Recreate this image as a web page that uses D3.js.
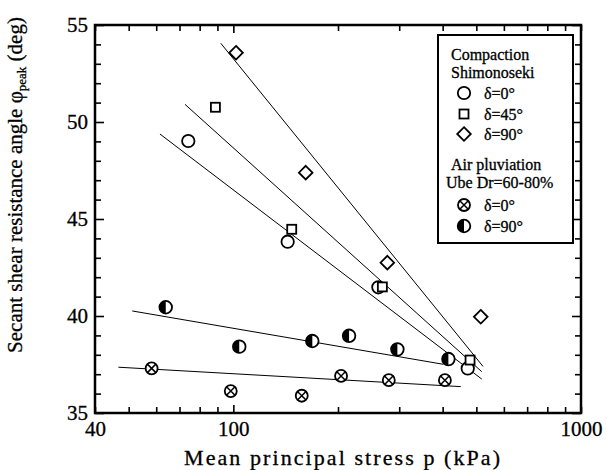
<!DOCTYPE html>
<html>
<head>
<meta charset="utf-8">
<script src="https://cdn.jsdelivr.net/npm/d3@7/dist/d3.min.js"></script>
<style>
  html, body { margin: 0; padding: 0; background: #fff; }
  svg { display: block; font-family: "Liberation Serif", "Times New Roman", serif; }
  svg text { fill: #000; stroke: #000; stroke-width: 0.3px; }
</style>
</head>
<body>
<svg id="chart" width="607" height="470"></svg>
<script>
// Mean principal stress p (kPa) and peak secant angle (deg) for each test group
const compDelta0P   = [74.2, 143.3, 261.3, 472.3];
const compDelta0Phi = [49.02, 43.83, 41.48, 37.3];

const compDelta45P   = [88.8, 147.2, 268.3, 479.6];
const compDelta45Phi = [50.76, 44.47, 41.5, 37.73];

const compDelta90P   = [101.8, 161.5, 277.3, 514.8];
const compDelta90Phi = [53.57, 47.39, 42.75, 39.96];

const airDelta0P   = [58.2, 98.3, 157.3, 204.1, 280, 406];
const airDelta0Phi = [37.3, 36.13, 35.89, 36.91, 36.69, 36.69];

const airDelta90P   = [63.9, 104.0, 168.7, 215.2, 296.4, 415.5];
const airDelta90Phi = [40.45, 38.42, 38.71, 38.98, 38.28, 37.78];

// Fitted trend lines: [p start, p end] and [phi start, phi end]
const fitCompDelta0   = { p: [61.5, 518.2], phi: [49.38, 36.75] };
const fitCompDelta45  = { p: [72.6, 518.2], phi: [50.91, 37.13] };
const fitCompDelta90  = { p: [92.0, 522.7], phi: [54.06, 37.4] };
const fitAirDelta0    = { p: [46.7, 451.0], phi: [37.36, 36.36] };
const fitAirDelta90   = { p: [51.2, 401.9], phi: [40.26, 37.51] };

// Axis ticks
const xTicks = [40, 50, 60, 70, 80, 90, 100, 200, 300, 400, 500, 600, 700, 800, 900, 1000];
const xTickLabels = [40, 100, 1000];
const yTicks = d3.range(35, 56, 1);
const yTickLabels = [35, 40, 45, 50, 55];

const svg = d3.select("#chart");
const plotLeft = 95, plotRight = 581, plotTop = 25, plotBottom = 413;

const x = d3.scaleLog().domain([40, 1000]).range([plotLeft, plotRight]);
const y = d3.scaleLinear().domain([35, 55]).range([plotBottom, plotTop]);

const tickFont = 21;

// Bottom axis with labels, ticks pointing inward
const xAxisB = svg.append("g").attr("transform", `translate(0,${plotBottom})`)
  .call(d3.axisBottom(x).tickValues(xTicks).tickSizeOuter(0).tickSizeInner(-6).tickPadding(8)
    .tickFormat(d => xTickLabels.includes(d) ? String(d) : ""));
xAxisB.selectAll(".tick line").attr("y2", d => d === 100 ? -8 : -6);

const xAxisT = svg.append("g").attr("transform", `translate(0,${plotTop})`)
  .call(d3.axisTop(x).tickValues(xTicks).tickSizeOuter(0).tickSizeInner(-6).tickFormat(""));
xAxisT.selectAll(".tick line").attr("y2", d => d === 100 ? 8 : 6);

const yAxisL = svg.append("g").attr("transform", `translate(${plotLeft},0)`)
  .call(d3.axisLeft(y).tickValues(yTicks).tickSizeOuter(0).tickSizeInner(-6).tickPadding(7)
    .tickFormat(d => yTickLabels.includes(d) ? String(d) : ""));
yAxisL.selectAll(".tick line").attr("x2", d => d % 5 === 0 ? 9 : 6);

const yAxisR = svg.append("g").attr("transform", `translate(${plotRight},0)`)
  .call(d3.axisRight(y).tickValues(yTicks).tickSizeOuter(0).tickSizeInner(-6).tickFormat(""));
yAxisR.selectAll(".tick line").attr("x2", d => d % 5 === 0 ? -9 : -6);

svg.selectAll(".domain").remove();
svg.selectAll(".tick line").attr("stroke", "#000").attr("stroke-width", 1.6);
svg.selectAll(".tick text")
  .attr("fill", "#000")
  .style("font-family", "'Liberation Serif', serif")
  .style("font-size", tickFont + "px");

// Plot frame
svg.append("rect")
  .attr("x", plotLeft).attr("y", plotTop)
  .attr("width", plotRight - plotLeft).attr("height", plotBottom - plotTop)
  .attr("fill", "none").attr("stroke", "#000").attr("stroke-width", 2.5);

// Axis titles
svg.append("text")
  .attr("x", 184).attr("y", 465)
  .attr("textLength", 316).attr("lengthAdjust", "spacing")
  .style("font-size", "22px")
  .text("Mean principal stress p (kPa)");

const yTitle = svg.append("text")
  .attr("transform", "translate(22,185) rotate(-90)")
  .attr("text-anchor", "middle")
  .style("font-size", "21px");
yTitle.append("tspan").text("Secant shear resistance angle φ");
yTitle.append("tspan").attr("dy", 4).style("font-size", "13px").text("peak");
yTitle.append("tspan").attr("dy", -4).text(" (deg)");

// Trend lines
const fits = [fitCompDelta0, fitCompDelta45, fitCompDelta90, fitAirDelta0, fitAirDelta90];
svg.append("g").selectAll("line").data(fits).join("line")
  .attr("x1", d => x(d.p[0])).attr("y1", d => y(d.phi[0]))
  .attr("x2", d => x(d.p[1])).attr("y2", d => y(d.phi[1]))
  .attr("stroke", "#000").attr("stroke-width", 1);

// Marker drawing helpers
const sw = 1.8;
function drawCircle(g) {
  g.append("circle").attr("r", 6.2).attr("fill", "#fff").attr("stroke", "#000").attr("stroke-width", sw);
}
function drawSquare(g) {
  g.append("rect").attr("x", -4.5).attr("y", -4.5).attr("width", 9).attr("height", 9)
    .attr("fill", "#fff").attr("stroke", "#000").attr("stroke-width", sw);
}
function drawDiamond(g) {
  g.append("path").attr("d", "M0,-6.8L6.8,0L0,6.8L-6.8,0Z")
    .attr("fill", "#fff").attr("stroke", "#000").attr("stroke-width", sw);
}
function drawCrossCircle(g) {
  g.append("circle").attr("r", 6).attr("fill", "#fff").attr("stroke", "#000").attr("stroke-width", sw);
  const k = 6 * Math.SQRT1_2;
  g.append("path").attr("d", `M${-k},${-k}L${k},${k}M${-k},${k}L${k},${-k}`)
    .attr("stroke", "#000").attr("stroke-width", 1.5);
}
function drawHalfCircle(g) {
  g.append("circle").attr("r", 6.3).attr("fill", "#fff").attr("stroke", "#000").attr("stroke-width", sw);
  g.append("path").attr("d", "M0,-6.3A6.3,6.3 0 0 0 0,6.3Z").attr("fill", "#000");
}

const groups = [
  { p: airDelta0P, phi: airDelta0Phi, draw: drawCrossCircle },
  { p: airDelta90P, phi: airDelta90Phi, draw: drawHalfCircle },
  { p: compDelta0P, phi: compDelta0Phi, draw: drawCircle },
  { p: compDelta45P, phi: compDelta45Phi, draw: drawSquare },
  { p: compDelta90P, phi: compDelta90Phi, draw: drawDiamond }
];

groups.forEach(gr => {
  gr.p.forEach((p, i) => {
    const g = svg.append("g").attr("transform", `translate(${x(p)},${y(gr.phi[i])})`);
    gr.draw(g);
  });
});

// Legend
const lg = svg.append("g");
lg.append("rect").attr("x", 438).attr("y", 35).attr("width", 135).attr("height", 208)
  .attr("fill", "#fff").attr("stroke", "#000").attr("stroke-width", 2);

const legendFont = "16px";
const headers = [
  { t: "Compaction", x: 451, y: 60 },
  { t: "Shimonoseki", x: 451, y: 78 },
  { t: "Air pluviation", x: 451, y: 170 },
  { t: "Ube Dr=60-80%", x: 446, y: 188 }
];
lg.selectAll("text.hdr").data(headers).join("text").attr("class", "hdr")
  .attr("x", d => d.x).attr("y", d => d.y)
  .style("font-size", legendFont).text(d => d.t);

const legendRows = [
  { draw: drawCircle, label: "δ=0°", y: 93 },
  { draw: drawSquare, label: "δ=45°", y: 114 },
  { draw: drawDiamond, label: "δ=90°", y: 134 },
  { draw: drawCrossCircle, label: "δ=0°", y: 205 },
  { draw: drawHalfCircle, label: "δ=90°", y: 226 }
];
legendRows.forEach(r => {
  const g = lg.append("g").attr("transform", `translate(464,${r.y})`);
  r.draw(g);
  lg.append("text").attr("x", 484).attr("y", r.y + 6)
    .style("font-size", legendFont).text(r.label);
});
</script>
</body>
</html>
